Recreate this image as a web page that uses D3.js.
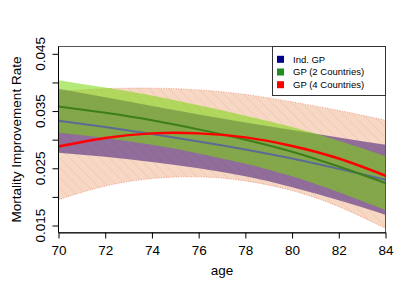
<!DOCTYPE html>
<html>
<head>
<meta charset="utf-8">
<script src="https://cdn.jsdelivr.net/npm/d3@7"></script>
<style>
  body { margin: 0; background: #fff; }
  svg text { font-family: "Liberation Sans", Arial, sans-serif; fill: #000; }
</style>
</head>
<body>
<div id="chart"></div>
<script>
// values
const ages = [70, 72, 74, 76, 78, 80, 82, 84];

const indMean  = [0.0333, 0.0322, 0.0310, 0.0297, 0.0283, 0.0267, 0.0249, 0.0230];
const indUpper = [0.0389, 0.0374, 0.0359, 0.0344, 0.0330, 0.0317, 0.0304, 0.0291];
const indLower = [0.0277, 0.0270, 0.0261, 0.0250, 0.0236, 0.0217, 0.0194, 0.0169];

const gp2Mean  = [0.0358, 0.0347, 0.0334, 0.0318, 0.0300, 0.0279, 0.0253, 0.0224];
const gp2Upper = [0.0404, 0.0391, 0.0377, 0.0360, 0.0342, 0.0322, 0.0298, 0.0271];
const gp2Lower = [0.0312, 0.0303, 0.0291, 0.0276, 0.0258, 0.0236, 0.0208, 0.0177];

const gp4Mean  = [0.0288, 0.0303, 0.0311, 0.0311, 0.0304, 0.0289, 0.0267, 0.0237];
const gp4Upper = [0.0384, 0.0389, 0.0390, 0.0387, 0.0379, 0.0366, 0.0351, 0.0334];
const gp4Lower = [0.0195, 0.0219, 0.0232, 0.0235, 0.0228, 0.0211, 0.0183, 0.0145];

const xTicks = [70, 72, 74, 76, 78, 80, 82, 84];
const yTicks = [0.015, 0.02, 0.025, 0.03, 0.035, 0.04, 0.045];
const yLabels = [0.015, 0.025, 0.035, 0.045];

const legendNames = ["Ind. GP", "GP (2 Countries)", "GP (4 Countries)"];
const legendColors = ["#00008b", "#1f8f1f", "#ff0000"];

// dimensioner
const W = 409, H = 292;
const plot = { left: 58.5, right: 385.5, top: 46.5, bottom: 232.5 };

const svg = d3.select("#chart").append("svg")
  .attr("width", W).attr("height", H);

const x = d3.scaleLinear().domain([70, 84]).range([plot.left, plot.right]);
const y = d3.scaleLinear().domain([0.01378, 0.04628]).range([plot.bottom, plot.top]);

const defs = svg.append("defs");
defs.append("clipPath").attr("id", "clip")
  .append("rect")
  .attr("x", plot.left).attr("y", plot.top)
  .attr("width", plot.right - plot.left).attr("height", plot.bottom - plot.top);

// skraverings-mønster til 4-lande båndet
const pat = defs.append("pattern")
  .attr("id", "hatch")
  .attr("patternUnits", "userSpaceOnUse")
  .attr("width", 7).attr("height", 7)
  .attr("patternTransform", "rotate(-45)");
pat.append("rect").attr("width", 7).attr("height", 7).attr("fill", "#f6d8c5");
pat.append("line")
  .attr("x1", 0).attr("y1", 0).attr("x2", 0).attr("y2", 7)
  .attr("stroke", "#efbca2").attr("stroke-width", 0.9);

const g = svg.append("g").attr("clip-path", "url(#clip)");

function band(lower, upper) {
  return d3.area()
    .x((d, i) => x(ages[i]))
    .y0((d, i) => y(lower[i]))
    .y1((d, i) => y(upper[i]))
    .curve(d3.curveNatural)(ages);
}
function curve(vals) {
  return d3.line()
    .x((d, i) => x(ages[i]))
    .y((d, i) => y(vals[i]))
    .curve(d3.curveNatural)(ages);
}

// bånd
g.append("path").attr("d", band(gp4Lower, gp4Upper))
  .attr("fill", "url(#hatch)");
g.append("path").attr("d", curve(gp4Upper))
  .attr("fill", "none").attr("stroke", "#f08a70").attr("stroke-width", 0.8)
  .attr("stroke-dasharray", "1,1.5");
g.append("path").attr("d", curve(gp4Lower))
  .attr("fill", "none").attr("stroke", "#f08a70").attr("stroke-width", 0.8)
  .attr("stroke-dasharray", "1,1.5");

g.append("path").attr("d", band(indLower, indUpper))
  .attr("fill", "rgb(60,22,118)").attr("fill-opacity", 0.55);

g.append("path").attr("d", band(gp2Lower, gp2Upper))
  .attr("fill", "rgb(120,215,10)").attr("fill-opacity", 0.55);

// linjer
g.append("path").attr("d", curve(indMean))
  .attr("fill", "none").attr("stroke", "#5a6c94").attr("stroke-width", 2);
g.append("path").attr("d", curve(gp2Mean))
  .attr("fill", "none").attr("stroke", "#3d7d1c").attr("stroke-width", 2);
g.append("path").attr("d", curve(gp4Mean))
  .attr("fill", "none").attr("stroke", "#ff0000").attr("stroke-width", 2.5);

// ramme
svg.append("rect")
  .attr("x", plot.left).attr("y", plot.top)
  .attr("width", plot.right - plot.left).attr("height", plot.bottom - plot.top)
  .attr("fill", "none").attr("stroke", "#555").attr("stroke-width", 1);

// X-akse
const xAxis = svg.append("g")
  .attr("transform", "translate(0," + plot.bottom + ")")
  .call(d3.axisBottom(x).tickValues(xTicks).tickSize(6).tickSizeOuter(0).tickFormat(d3.format("d")));
xAxis.select(".domain").attr("stroke", "#000");
xAxis.selectAll("text")
  .attr("y", 13).attr("dy", "0.71em")
  .style("font-size", "13.5px")
  .style("font-family", "Liberation Sans, Arial, sans-serif");

// Y-akse
const yAxis = svg.append("g")
  .attr("transform", "translate(" + plot.left + ",0)")
  .call(d3.axisLeft(y).tickValues(yTicks).tickSize(6).tickSizeOuter(0).tickFormat(""));
yAxis.select(".domain").attr("d", "M0," + y(0.015) + "V" + y(0.045));
yAxis.append("path")
  .attr("d", "M0," + plot.top + "V" + plot.bottom)
  .attr("stroke", "#000");

svg.selectAll(".ylab")
  .data(yLabels)
  .enter()
  .append("text")
  .attr("class", "ylab")
  .attr("transform", d => "translate(45," + y(d) + ")rotate(-90)")
  .attr("text-anchor", "middle")
  .style("font-size", "13.5px")
  .text(d => d3.format(".3f")(d));

// akse-titler
svg.append("text")
  .attr("x", (plot.left + plot.right) / 2).attr("y", 275)
  .attr("text-anchor", "middle")
  .style("font-size", "13.5px")
  .text("age");

svg.append("text")
  .attr("transform", "translate(21," + (plot.top + plot.bottom) / 2 + ")rotate(-90)")
  .attr("text-anchor", "middle")
  .style("font-size", "13.5px")
  .text("Mortality Improvement Rate");

// legende
const leg = svg.append("g");
leg.append("rect")
  .attr("x", 272.5).attr("y", plot.top)
  .attr("width", plot.right - 272.5).attr("height", 49)
  .attr("fill", "#fff").attr("stroke", "#333").attr("stroke-width", 1);

legendNames.forEach(function (name, i) {
  const cy = 59.3 + i * 12.7;
  leg.append("rect")
    .attr("x", 277).attr("y", cy - 3.5)
    .attr("width", 7).attr("height", 7)
    .attr("fill", legendColors[i]);
  leg.append("text")
    .attr("x", 293).attr("y", cy + 3.4)
    .style("font-size", "9.5px")
    .text(name);
});
</script>
</body>
</html>
